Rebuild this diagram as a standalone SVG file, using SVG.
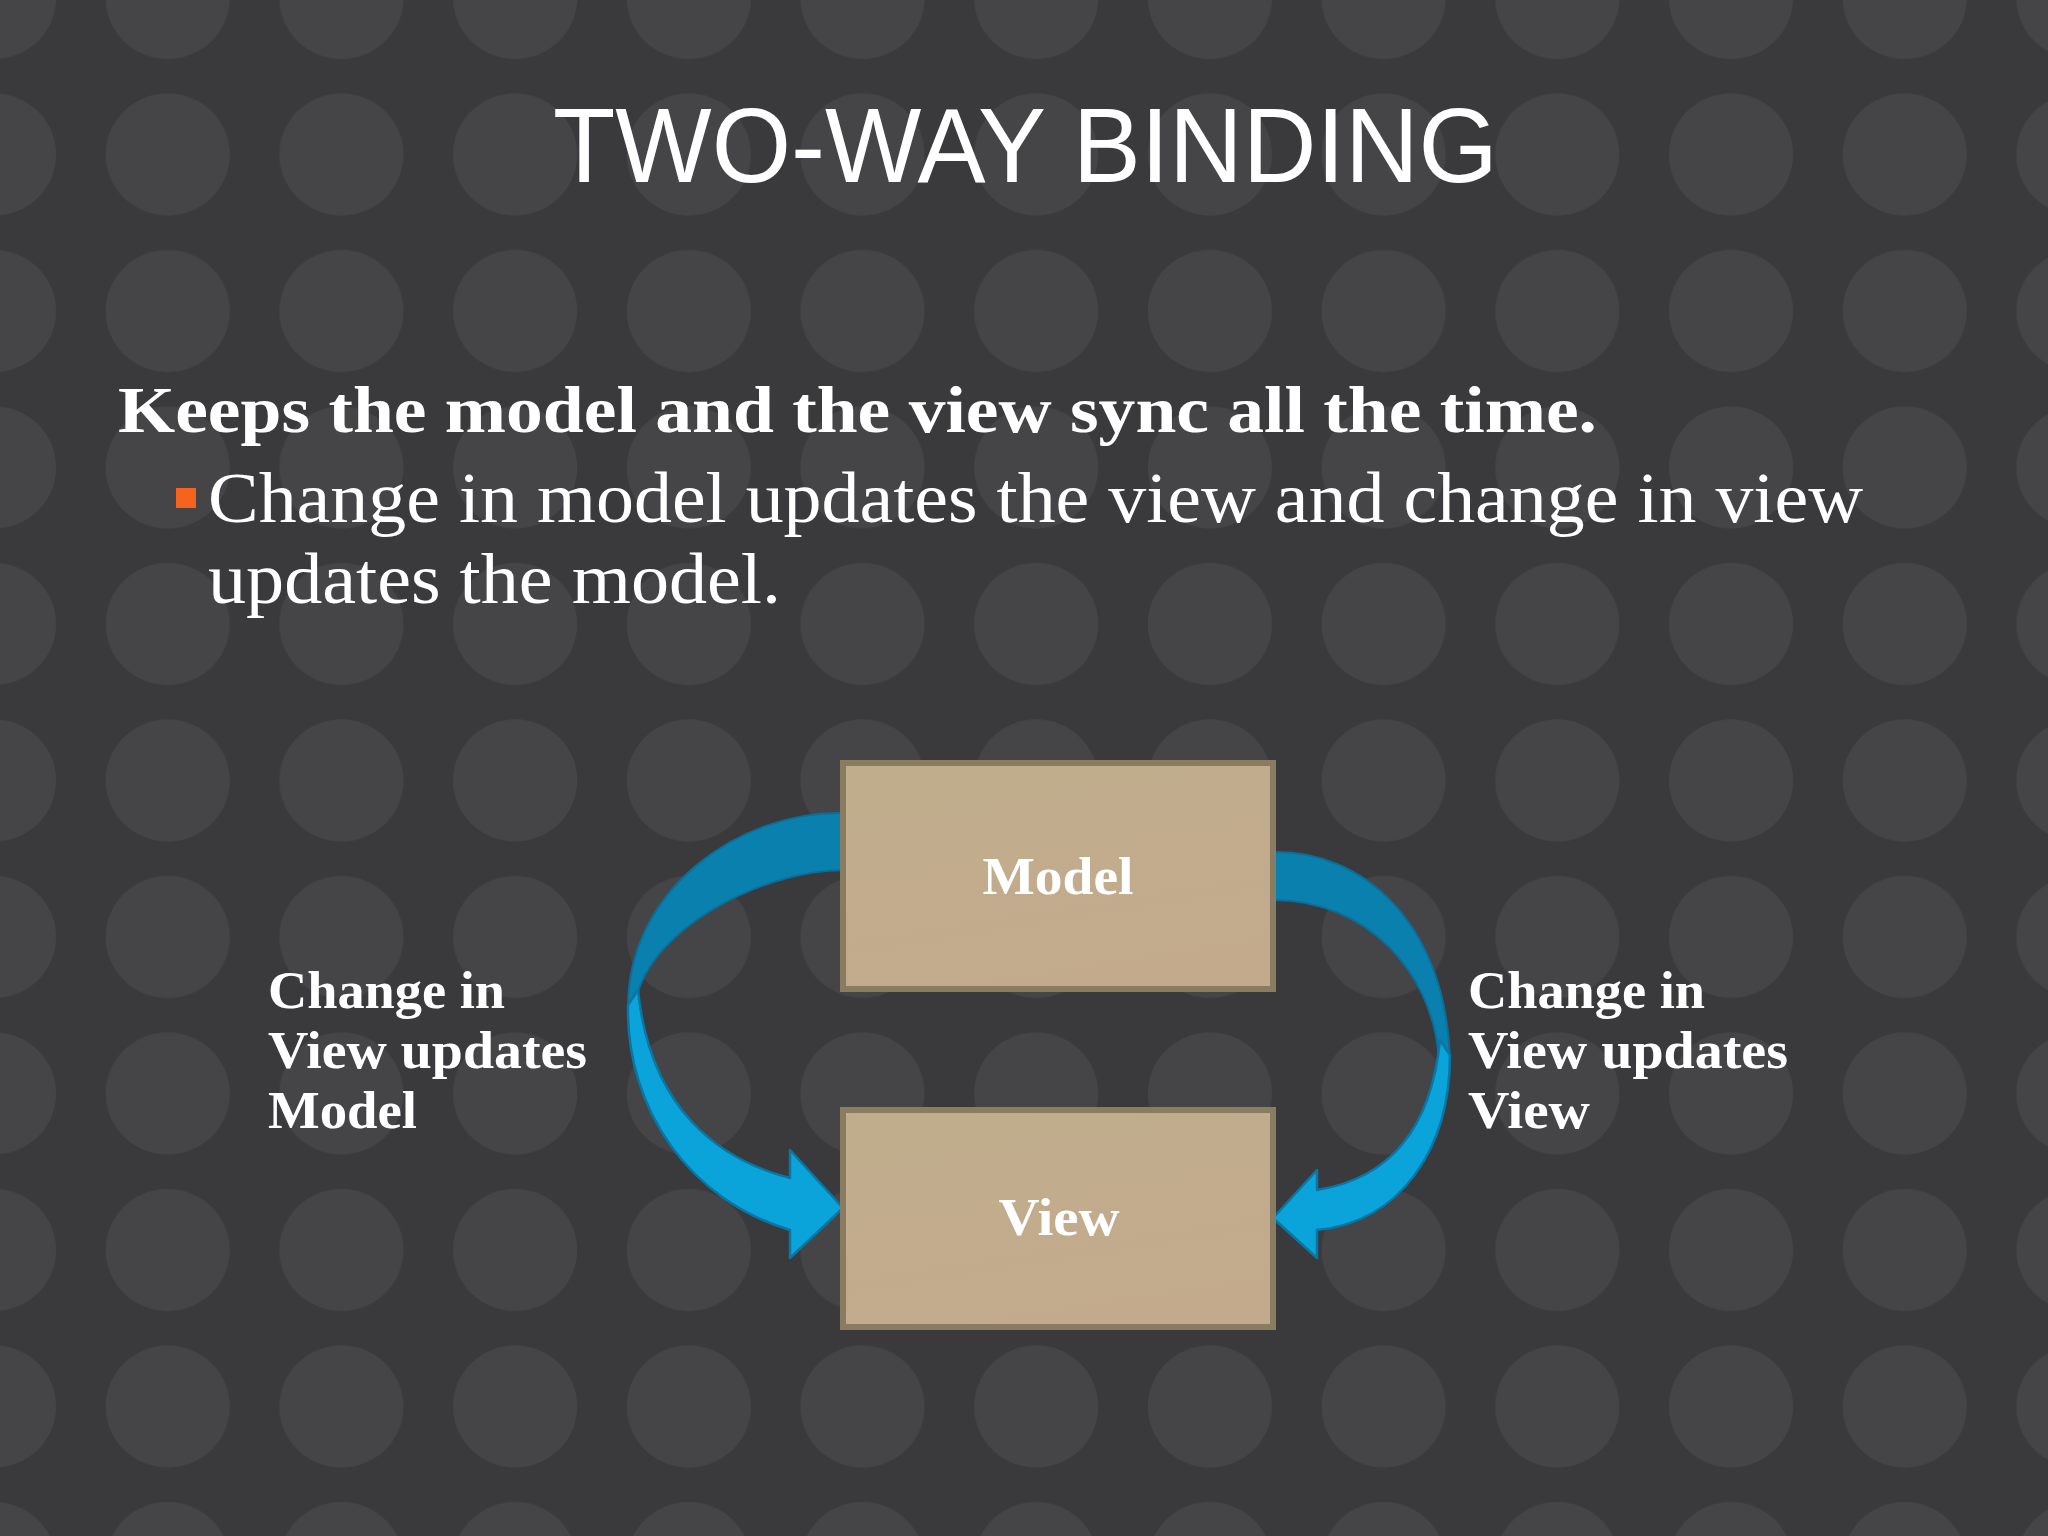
<svg xmlns="http://www.w3.org/2000/svg" width="2048" height="1536" viewBox="0 0 2048 1536">
  <style>
    .title { font-family: "Liberation Sans", Arial, sans-serif; font-size: 105px; fill: #ffffff; }
    .serif { font-family: "Liberation Serif", "Times New Roman", serif; fill: #ffffff; }
    .bold { font-weight: bold; }
    .heading { font-size: 66px; }
    .body { font-size: 71px; }
    .label { font-size: 53px; font-weight: bold; }
    .box { fill: url(#boxFill); stroke: #8a7c61; stroke-width: 6; }
    .ribbonDark { fill: #0a80ae; stroke: #0a6f98; stroke-width: 2; stroke-linejoin: round; }
    .ribbonLight { fill: #0aa4db; stroke: #0a76a3; stroke-width: 2.5; stroke-linejoin: round; }
  </style>
  <defs>
    <pattern id="dots" x="-92.85" y="-80.25" width="173.7" height="156.5" patternUnits="userSpaceOnUse">
      <ellipse cx="86.85" cy="78.25" rx="62" ry="61" fill="#454547"/>
    </pattern>
    <linearGradient id="boxFill" x1="0" y1="0" x2="0.3" y2="1">
      <stop offset="0" stop-color="#bfae8c"/>
      <stop offset="1" stop-color="#c3aa8d"/>
    </linearGradient>
  </defs>

  <g id="background">
    <rect x="0" y="0" width="2048" height="1536" fill="#3a3a3c"/>
    <rect x="0" y="0" width="2048" height="1536" fill="url(#dots)"/>
  </g>

  <g id="title">
    <text class="title" x="553" y="182" textLength="945" lengthAdjust="spacingAndGlyphs">TWO-WAY BINDING</text>
  </g>

  <g id="bullets">
    <text class="serif bold heading" x="118" y="432" textLength="1479" lengthAdjust="spacingAndGlyphs">Keeps the model and the view sync all the time.</text>
    <rect x="176" y="488" width="20" height="20" fill="#f5631f"/>
    <text class="serif body" x="208" y="522" textLength="1655" lengthAdjust="spacingAndGlyphs">Change in model updates the view and change in view</text>
    <text class="serif body" x="208" y="603" textLength="573" lengthAdjust="spacingAndGlyphs">updates the model.</text>
  </g>

  <g id="connectors">
    <g id="arrow-left">
      <path class="ribbonDark" d="M845,813 C740,810 626,890 628,1010 L631,1045 L636,1000 C650,930 760,870 845,870 Z"/>
      <path class="ribbonLight" d="M628,1005 C626,1110 690,1200 790,1230 L790,1258 L843,1208 L790,1150 L790,1178 C720,1160 650,1110 638,990 Z"/>
    </g>
    <g id="arrow-right">
      <path class="ribbonDark" d="M1273,852 C1360,850 1447,920 1450,1063 L1445,1085 L1438,1050 C1430,975 1370,900 1273,900 Z"/>
      <path class="ribbonLight" d="M1450,1055 C1450,1150 1400,1222 1317,1230 L1317,1258 L1273,1218 L1317,1170 L1317,1190 C1380,1180 1430,1140 1440,1040 Z"/>
    </g>
  </g>

  <g id="node-model">
    <rect class="box" x="843" y="763" width="430" height="226"/>
    <text class="serif label" x="1058" y="894" text-anchor="middle" textLength="151" lengthAdjust="spacingAndGlyphs">Model</text>
  </g>

  <g id="node-view">
    <rect class="box" x="843" y="1110" width="430" height="217"/>
    <text class="serif label" x="1059" y="1235" text-anchor="middle" textLength="121" lengthAdjust="spacingAndGlyphs">View</text>
  </g>

  <g id="label-left">
    <text class="serif label" x="268" y="1008" textLength="237" lengthAdjust="spacingAndGlyphs">Change in</text>
    <text class="serif label" x="268" y="1068" textLength="319" lengthAdjust="spacingAndGlyphs">View updates</text>
    <text class="serif label" x="268" y="1128" textLength="149" lengthAdjust="spacingAndGlyphs">Model</text>
  </g>

  <g id="label-right">
    <text class="serif label" x="1468" y="1008" textLength="237" lengthAdjust="spacingAndGlyphs">Change in</text>
    <text class="serif label" x="1468" y="1068" textLength="320" lengthAdjust="spacingAndGlyphs">View updates</text>
    <text class="serif label" x="1468" y="1128" textLength="122" lengthAdjust="spacingAndGlyphs">View</text>
  </g>
</svg>
